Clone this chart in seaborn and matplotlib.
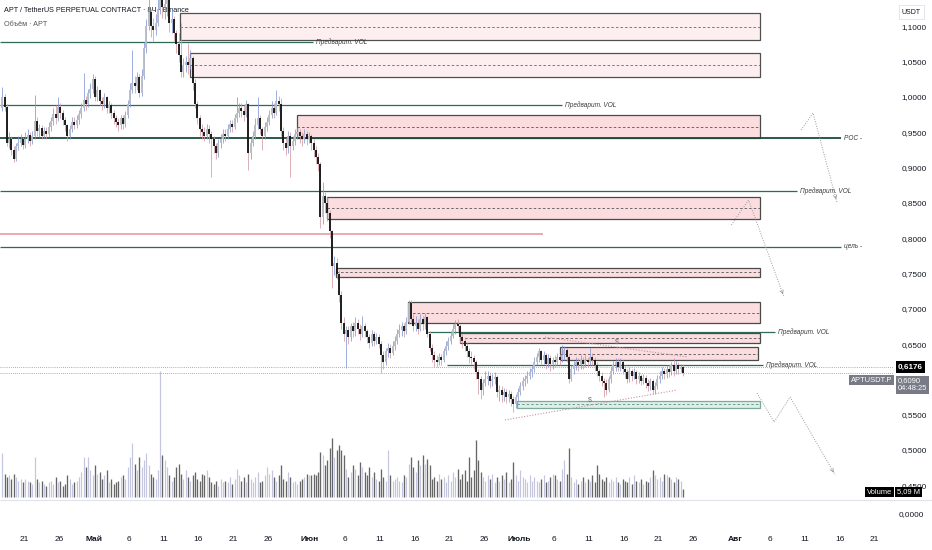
import numpy as np
import pandas as pd
import seaborn as sns
import matplotlib
matplotlib.use("Agg")
import matplotlib.pyplot as plt
import matplotlib.dates as mdates
from matplotlib.patches import Rectangle
from matplotlib.lines import Line2D

# --- 8h candles APT/USDT, first candle opens 2025-04-17 16:00 ---
first_open = 0.985
closes = [
    1.000,                      # Apr 17
    0.986, 0.935, 0.940,  0.925, 0.912, 0.930,  0.935, 0.940, 0.932,  0.940, 0.946, 0.938,
    0.945, 0.966, 0.952,  0.956, 0.945, 0.952,  0.948, 0.958, 0.966,  0.976, 0.970, 0.986,
    0.978, 0.968, 0.960,  0.945, 0.955, 0.965,  0.960, 0.968, 0.976,  0.985, 0.996, 0.990,
    1.005, 1.012, 1.026,        # Apr 30
    1.000, 1.010, 0.995,  0.990, 1.000, 0.985,  0.988, 0.978, 0.970,  0.965, 0.960, 0.970,
    0.962, 0.975, 0.990,  1.010, 1.020, 1.015,  1.028, 1.005, 1.030,  1.070, 1.100, 1.120,
    1.100, 1.095, 1.105,  1.125, 1.140, 1.128,  1.132, 1.138, 1.105,  1.110, 1.090, 1.075,
    1.060, 1.035, 1.045,  1.050, 1.045, 1.055,  1.020, 0.990, 0.970,  0.955, 0.950, 0.945,
    0.955, 0.948, 0.940,  0.930, 0.920, 0.935,  0.940, 0.948, 0.945,  0.955, 0.962, 0.958,
    0.970, 0.978, 0.985,  0.980, 0.975, 0.990,  0.920, 0.935, 0.945,  0.960, 0.970, 0.955,
    0.945, 0.958, 0.965,  0.975, 0.985, 0.978,  0.995, 0.990, 0.952,  0.935, 0.928, 0.945,
    0.930, 0.938, 0.948,  0.950, 0.945, 0.940,  0.948, 0.940, 0.945,      # May 31
    0.935, 0.925, 0.915,  0.905, 0.830, 0.860,  0.850, 0.835, 0.810,  0.760, 0.765, 0.750,
    0.720, 0.680, 0.665,  0.670, 0.660, 0.675,  0.668, 0.680, 0.672,  0.665, 0.676, 0.668,
    0.660, 0.652, 0.664,  0.655, 0.660, 0.650,  0.635, 0.625, 0.640,  0.645, 0.638, 0.648,
    0.655, 0.665, 0.670,  0.675, 0.668, 0.682,  0.708, 0.685, 0.675,  0.680, 0.672, 0.685,
    0.678, 0.688, 0.665,  0.645, 0.635, 0.628,  0.625, 0.632, 0.628,  0.640, 0.648, 0.655,
    0.662, 0.672, 0.678,  0.675, 0.660, 0.655,  0.648, 0.640, 0.632,  0.630, 0.625, 0.610,
    0.600, 0.585, 0.595,  0.600, 0.605, 0.598,  0.600, 0.603, 0.582,  0.585, 0.578, 0.582,
    0.575, 0.580, 0.572,  0.565, 0.575, 0.582,                            # Jun 30
    0.590, 0.598, 0.600,  0.605, 0.610, 0.615,  0.625, 0.632, 0.640,  0.628, 0.635, 0.622,
    0.630, 0.622, 0.628,  0.625, 0.632, 0.628,  0.635, 0.642, 0.632,  0.600, 0.615, 0.620,
    0.625, 0.620, 0.628,  0.622, 0.628, 0.625,  0.632, 0.628, 0.620,  0.612, 0.605, 0.598,
    0.595, 0.585, 0.600,  0.612, 0.620, 0.625,  0.618, 0.625, 0.615,  0.610, 0.600, 0.612,
    0.605, 0.610, 0.600,  0.605, 0.598, 0.602,  0.595, 0.590, 0.598,  0.585, 0.590, 0.600,
    0.605, 0.612, 0.608,  0.615, 0.610, 0.620,  0.612, 0.620, 0.615,  0.618, 0.609,
]
highs = [
    1.014,
    1.004, 0.990, 0.950,  0.945, 0.930, 0.935,  0.945, 0.948, 0.944,  0.950, 0.955, 0.950,
    0.952, 1.003, 0.972,  0.962, 0.960, 0.958,  0.958, 0.965, 0.972,  0.985, 0.988, 1.000,
    0.992, 0.982, 0.972,  0.962, 0.960, 0.972,  0.972, 0.975, 0.982,  0.992, 1.034, 1.002,
    1.012, 1.020, 1.032,
    1.030, 1.016, 1.012,  1.000, 1.006, 1.002,  0.995, 0.992, 0.982,  0.975, 0.970, 0.975,
    0.975, 0.980, 0.996,  1.020, 1.066, 1.030,  1.036, 1.032, 1.040,  1.078, 1.110, 1.150,
    1.125, 1.112, 1.118,  1.145, 1.165, 1.150,  1.150, 1.160, 1.140,  1.125, 1.115, 1.095,
    1.090, 1.105, 1.055,  1.058, 1.076, 1.066,  1.058, 1.025, 0.995,  0.975, 0.962, 0.958,
    0.962, 0.960, 0.952,  0.945, 0.935, 0.940,  0.948, 0.955, 0.955,  0.962, 0.968, 0.968,
    0.976, 1.000, 0.992,  0.992, 0.988, 0.996,  0.992, 0.942, 0.952,  0.970, 1.000, 0.975,
    0.958, 0.965, 0.972,  0.982, 0.995, 0.992,  1.010, 1.002, 0.998,  0.958, 0.942, 0.952,
    0.950, 0.945, 0.955,  0.958, 0.955, 0.950,  0.955, 0.952, 0.950,
    0.948, 0.940, 0.930,  0.920, 0.908, 0.880,  0.865, 0.858, 0.840,  0.812, 0.775, 0.772,
    0.755, 0.725, 0.688,  0.676, 0.675, 0.680,  0.682, 0.688, 0.686,  0.678, 0.690, 0.680,
    0.672, 0.665, 0.670,  0.668, 0.666, 0.664,  0.655, 0.640, 0.645,  0.652, 0.650, 0.654,
    0.662, 0.672, 0.678,  0.682, 0.680, 0.688,  0.713, 0.712, 0.692,  0.690, 0.686, 0.692,
    0.690, 0.694, 0.690,  0.668, 0.650, 0.640,  0.635, 0.638, 0.636,  0.645, 0.654, 0.660,
    0.668, 0.678, 0.684,  0.686, 0.678, 0.665,  0.660, 0.652, 0.645,  0.640, 0.634, 0.628,
    0.615, 0.605, 0.600,  0.612, 0.612, 0.610,  0.608, 0.610, 0.606,  0.592, 0.590, 0.588,
    0.586, 0.585, 0.584,  0.576, 0.580, 0.588,
    0.596, 0.604, 0.606,  0.612, 0.616, 0.620,  0.632, 0.638, 0.645,  0.642, 0.640, 0.638,
    0.636, 0.634, 0.632,  0.634, 0.638, 0.636,  0.649, 0.648, 0.645,  0.635, 0.620, 0.626,
    0.632, 0.630, 0.634,  0.632, 0.634, 0.632,  0.645, 0.638, 0.632,  0.625, 0.615, 0.610,
    0.602, 0.600, 0.605,  0.618, 0.626, 0.630,  0.630, 0.630, 0.628,  0.620, 0.615, 0.618,
    0.615, 0.616, 0.614,  0.610, 0.608, 0.608,  0.606, 0.600, 0.602,  0.600, 0.596, 0.606,
    0.612, 0.618, 0.616,  0.620, 0.620, 0.625,  0.630, 0.626, 0.624,  0.622, 0.622,
]
lows = [
    0.980,
    0.980, 0.930, 0.928,  0.918, 0.908, 0.910,  0.925, 0.930, 0.926,  0.928, 0.935, 0.930,
    0.933, 0.940, 0.945,  0.944, 0.940, 0.942,  0.940, 0.944, 0.952,  0.960, 0.962, 0.966,
    0.970, 0.960, 0.952,  0.938, 0.940, 0.950,  0.955, 0.956, 0.962,  0.970, 0.980, 0.982,
    0.986, 0.998, 1.005,
    0.995, 0.994, 0.988,  0.982, 0.985, 0.978,  0.978, 0.970, 0.962,  0.958, 0.952, 0.955,
    0.955, 0.958, 0.970,  0.986, 1.005, 1.005,  1.010, 1.000, 1.002,  1.025, 1.062, 1.095,
    1.085, 1.080, 1.088,  1.100, 1.118, 1.112,  1.110, 1.115, 1.092,  1.090, 1.080, 1.062,
    1.050, 1.028, 1.028,  1.036, 1.032, 1.040,  1.010, 0.984, 0.962,  0.945, 0.940, 0.938,
    0.940, 0.935, 0.887,  0.920, 0.912, 0.915,  0.928, 0.935, 0.938,  0.940, 0.950, 0.950,
    0.955, 0.965, 0.972,  0.972, 0.966, 0.972,  0.897, 0.912, 0.930,  0.940, 0.955, 0.948,
    0.925, 0.940, 0.952,  0.960, 0.970, 0.970,  0.975, 0.980, 0.945,  0.925, 0.918, 0.920,
    0.887, 0.925, 0.932,  0.940, 0.935, 0.930,  0.935, 0.932, 0.935,
    0.925, 0.915, 0.905,  0.895, 0.815, 0.820,  0.835, 0.825, 0.800,  0.730, 0.748, 0.742,
    0.710, 0.672, 0.655,  0.616, 0.650, 0.655,  0.660, 0.662, 0.665,  0.656, 0.660, 0.660,
    0.652, 0.645, 0.648,  0.648, 0.650, 0.645,  0.609, 0.615, 0.620,  0.632, 0.630, 0.634,
    0.642, 0.650, 0.660,  0.662, 0.660, 0.664,  0.678, 0.680, 0.668,  0.668, 0.665, 0.668,
    0.670, 0.672, 0.660,  0.640, 0.625, 0.618,  0.617, 0.620, 0.620,  0.625, 0.635, 0.642,
    0.650, 0.658, 0.665,  0.668, 0.652, 0.645,  0.640, 0.632, 0.623,  0.622, 0.615, 0.600,
    0.580, 0.572, 0.578,  0.590, 0.592, 0.588,  0.590, 0.594, 0.575,  0.570, 0.568, 0.570,
    0.566, 0.568, 0.562,  0.554, 0.560, 0.570,
    0.578, 0.585, 0.590,  0.595, 0.600, 0.604,  0.610, 0.620, 0.625,  0.622, 0.622, 0.615,
    0.618, 0.612, 0.615,  0.618, 0.620, 0.620,  0.625, 0.628, 0.625,  0.595, 0.598, 0.608,
    0.614, 0.612, 0.615,  0.615, 0.618, 0.618,  0.620, 0.620, 0.612,  0.605, 0.598, 0.590,
    0.575, 0.578, 0.582,  0.595, 0.608, 0.612,  0.612, 0.612, 0.608,  0.602, 0.595, 0.596,
    0.598, 0.600, 0.594,  0.595, 0.592, 0.594,  0.588, 0.584, 0.585,  0.580, 0.580, 0.586,
    0.595, 0.600, 0.600,  0.602, 0.604, 0.606,  0.605, 0.608, 0.608,  0.610, 0.605,
]
# volume per candle, millions
volumes = [
    26,
    14, 12, 13,  11, 14, 12,  10, 11, 9,  11, 10, 9,  8, 24, 11,  9, 10, 8,  7, 9, 10,
    8, 12, 9,  10, 7, 8,  13, 11, 8,  9, 10, 12,  15, 24, 18,  24, 16, 13,
    19, 14, 15,  11, 13, 16,  9, 11, 8,  9, 10, 12,  13, 11, 18,  24, 32, 20,  16, 24, 18,
    22, 26, 19,  14, 12, 11,  16, 75, 25,  22, 18, 13,  10, 12, 18,  20, 14, 11,  16, 12, 10,
    13, 15, 11,  10, 14, 13,  16, 12, 9,  8, 10, 7,  11, 9, 10,  9, 12, 8,  11, 17, 13,
    10, 12, 9,  14, 11, 9,  12, 15, 9,  10, 13, 18,  14, 16, 12,  10, 13, 19,  11, 10, 15,
    12, 9, 10,  8, 10, 11,  12, 14, 13,
    13, 14, 13,  15, 27, 25,  19, 22, 29,  35, 24, 28,  31, 28, 25,  17, 12, 15,  19, 17, 13,
    21, 18, 15,  13, 18, 12,  15, 11, 10,  17, 12, 10,  28, 13, 10,  11, 12, 10,  9, 13, 12,
    20, 24, 18,  15, 22, 19,  25, 20, 23,  19, 11, 12,  10, 14, 11,  12, 9, 13,  10, 15, 12,
    17, 11, 14,  16, 10, 24,  12, 16, 34,  22, 15, 12,  10, 13, 11,  14, 9, 12,  10, 13, 11,
    15, 9, 11,  21, 13, 10,
    16, 12, 11,  9, 13, 10,  12, 10, 9,  11, 13, 9,  10, 12, 14,  13, 11, 10,  17, 22, 14,
    29, 12, 9,  11, 8, 10,  12, 9, 11,  10, 13, 9,  19, 14, 11,  10, 12, 9,  11, 10, 12,
    9, 8, 11,  10, 9, 12,  8, 13, 10,  9, 11, 8,  10, 9, 12,  16, 13, 11,  12, 10, 14,
    13, 12, 11,  9, 12, 11,  10, 5.09,
]

# supply / demand zones
zone_start = ["2025-05-13 08:00", "2025-05-14 18:00", "2025-05-30 03:00", "2025-06-03 10:00",
              "2025-06-04 18:00", "2025-06-15 02:00", "2025-06-22 12:00", "2025-07-06 21:00",
              "2025-06-30 17:00"]
zone_end = ["2025-08-04 13:00"] * 7 + ["2025-08-04 06:00", "2025-08-04 13:00"]
zone_low = [1.0807, 1.0283, 0.9419, 0.8272, 0.7457, 0.6799, 0.6516, 0.6275, 0.5602]
zone_high = [1.1190, 1.0623, 0.9745, 0.8584, 0.7578, 0.7096, 0.6657, 0.6459, 0.5701]
zone_kind = ["pale", "pale", "red", "red", "red", "red", "red", "red", "green"]

# horizontal levels
level_price = [1.0779, 0.9887, 0.9419, 0.8669, 0.7880, 0.8060, 0.6676, 0.6204]
level_start = [None, None, None, None, None, None, "2025-06-17 22:00", "2025-06-20 16:00"]
level_end = ["2025-06-01 10:00", "2025-07-07 04:00", "2025-08-16 04:00", "2025-08-09 21:00",
             "2025-08-16 04:00", "2025-07-04 10:00", "2025-08-06 17:00", "2025-08-05 00:00"]
level_label = ["Предварит. VOL", "Предварит. VOL", "POC -", "Предварит. VOL", "цель -", "",
               "Предварит. VOL", "Предварит. VOL"]
level_kind = ["vol", "vol", "poc", "vol", "vol", "pink", "vol", "vol"]

# trend lines and forecast paths
trend_hi_dates = ["2025-07-04 17:00", "2025-07-25 05:00"]
trend_hi_prices = [0.6599, 0.6317]
trend_lo_dates = ["2025-06-28 23:00", "2025-07-23 16:00"]
trend_lo_prices = [0.5425, 0.5850]
fc_a_dates = ["2025-08-10 11:00", "2025-08-12 04:00", "2025-08-15 14:00"]
fc_a_prices = [0.9533, 0.9773, 0.8513]
fc_b_dates = ["2025-07-31 11:00", "2025-08-02 22:00", "2025-08-08 00:00"]
fc_b_prices = [0.8187, 0.8541, 0.7167]
fc_c_dates = ["2025-08-04 03:00", "2025-08-06 14:00", "2025-08-08 21:00", "2025-08-15 08:00"]
fc_c_prices = [0.5807, 0.5397, 0.5751, 0.4646]

tick_dates = ["2025-04-21", "2025-04-26", "2025-05-01", "2025-05-06", "2025-05-11", "2025-05-16",
              "2025-05-21", "2025-05-26", "2025-06-01", "2025-06-06", "2025-06-11", "2025-06-16",
              "2025-06-21", "2025-06-26", "2025-07-01", "2025-07-06", "2025-07-11", "2025-07-16",
              "2025-07-21", "2025-07-26", "2025-08-01", "2025-08-06", "2025-08-11", "2025-08-16",
              "2025-08-21"]
tick_labels = ["21", "26", "Май", "6", "11", "16", "21", "26", "Июн", "6", "11", "16", "21", "26",
               "Июль", "6", "11", "16", "21", "26", "Авг", "6", "11", "16", "21"]
# 0,6000 is hidden behind the last-price badges in the original
price_ticks = [0.45, 0.50, 0.55, 0.65, 0.70, 0.75, 0.80, 0.85, 0.90, 0.95, 1.00, 1.05, 1.10]


def dnum(s):
    return mdates.date2num(pd.Timestamp(s).to_pydatetime())


sns.set_style("white")
plt.rcParams['font.family'] = ['Liberation Sans', 'DejaVu Sans']

W, H = 932, 550
fig = plt.figure(figsize=(W / 100, H / 100), dpi=100)


def frac(x0, y0, x1, y1):
    return [x0 / W, 1 - y1 / H, (x1 - x0) / W, (y1 - y0) / H]


ax = fig.add_axes(frac(0, 0, 893, 500))
axv = fig.add_axes(frac(0, 0, 893, 500), sharex=ax)
ax2 = fig.add_axes(frac(0, 500, 893, 530), sharex=ax)
ax.set_zorder(3)
ax.patch.set_visible(False)
axv.set_zorder(1)

x_left = dnum("2025-06-01") - 44.48
x_right = dnum("2025-06-01") + 83.64
ax.set_xlim(x_left, x_right)
ax.set_ylim(0.4292, 1.1374)
axv.set_ylim(-1.5, 294)

# candles
n = min(len(closes), len(highs), len(lows), len(volumes))
times = pd.date_range("2025-04-17 16:00", periods=n, freq="8h") + pd.Timedelta(hours=4)
x = mdates.date2num(times.to_pydatetime())
c = np.array(closes[:n])
o = np.r_[first_open, c[:-1]]
h = np.maximum(np.array(highs[:n]), np.maximum(o, c))
l = np.minimum(np.array(lows[:n]), np.minimum(o, c))
up = c >= o
body_lo = np.minimum(o, c)
body_hi = np.maximum(np.maximum(o, c), body_lo + 0.0016)

bull_body, bear_body = "#b9bcc6", "#161616"
bull_wick, bear_wick = "#8297d6", "#d39aa3"
ax.vlines(x[up], l[up], h[up], color=bull_wick, lw=0.55, zorder=4)
ax.vlines(x[~up], l[~up], h[~up], color=bear_wick, lw=0.55, zorder=4)
ax.vlines(x[up], body_lo[up], body_hi[up], color=bull_body, lw=1.35, zorder=5)
ax.vlines(x[~up], body_lo[~up], body_hi[~up], color=bear_body, lw=1.35, zorder=5)

# volume
vol = np.array(volumes[:n], dtype=float)
axv.vlines(x[up], 0, vol[up], color="#c3c6de", lw=0.85)
axv.vlines(x[~up], 0, vol[~up], color="#666666", lw=0.95)
axv.set_axis_off()

# zones
zone_style = {"pale": ("#fdeff0", "#505050", "#666666"),
              "red": ("#fbdcdf", "#4a4a4a", "#555555"),
              "green": ("#dcefe8", "#7fa99b", "#5d8c7d")}
for s, e, lo, hi, k in zip(zone_start, zone_end, zone_low, zone_high, zone_kind):
    fc, ec, mc = zone_style[k]
    x0, x1 = dnum(s), dnum(e)
    ax.add_patch(Rectangle((x0, lo), x1 - x0, hi - lo, fc=fc, ec=ec, lw=0.9, zorder=2))
    ax.hlines((lo + hi) / 2, x0, x1, color=mc, lw=0.6, ls=(0, (3, 2.5)), zorder=2)

# levels
for p, s, e, lab, k in zip(level_price, level_start, level_end, level_label, level_kind):
    x0 = x_left if s is None else dnum(s)
    x1 = dnum(e)
    if k == "poc":
        col, lw = "#1a4a3a", 1.3
    elif k == "pink":
        col, lw = "#eba3ab", 1.3
    else:
        col, lw = "#2f6a58", 0.9
    ax.hlines(p, x0, x1, color=col, lw=lw, zorder=3)
    if lab:
        ax.text(x1 + 0.4, p, lab, fontsize=4.7, style="italic", color="#3a3a3a",
                va="center", ha="left", zorder=6)

# last price lines
for p in [0.6176, 0.6090]:
    ax.axhline(p, color="#8f929b", lw=0.6, ls=(0, (1, 1.5)), zorder=3)

# trend lines
trend_col = "#c9939c"
sns.lineplot(x=[dnum(d) for d in trend_hi_dates], y=trend_hi_prices, ax=ax,
             color=trend_col, lw=0.8, ls=(0, (1, 1.5)), zorder=4)
sns.lineplot(x=[dnum(d) for d in trend_lo_dates], y=trend_lo_prices, ax=ax,
             color=trend_col, lw=0.8, ls=(0, (1, 1.5)), zorder=4)
ax.text(dnum("2025-07-15 01:00"), 0.653, "$", fontsize=5, color="#777777", ha="center", va="center")
ax.text(dnum("2025-07-11 04:00"), 0.5708, "$", fontsize=5, color="#777777", ha="center", va="center")

# forecast paths
for ds, ps in [(fc_a_dates, fc_a_prices), (fc_b_dates, fc_b_prices), (fc_c_dates, fc_c_prices)]:
    xs = [dnum(d) for d in ds]
    sns.lineplot(x=xs, y=ps, ax=ax, sort=False, color="#9a9ca3", lw=0.7,
                 ls=(0, (1, 1.5)), zorder=4)
    ax.annotate("", xy=(xs[-1], ps[-1]),
                xytext=(xs[-1] - (xs[-1] - xs[-2]) * 0.08, ps[-1] - (ps[-1] - ps[-2]) * 0.08),
                arrowprops=dict(arrowstyle="->", color="#9a9ca3", lw=0.6,
                                mutation_scale=6), zorder=4)

# axes cosmetics
for a in (ax, ax2):
    for sp in a.spines.values():
        sp.set_visible(False)
ax.yaxis.tick_right()
ax.set_yticks(price_ticks)
ax.set_yticklabels([f"{v:.4f}".replace(".", ",") for v in price_ticks])
ax.tick_params(axis="y", length=0, pad=6, labelsize=5.9, labelcolor="#131722")
ax.tick_params(axis="x", length=0, labelbottom=False)
ax2.set_yticks([])
ax2.patch.set_visible(False)
ax2.set_xticks([dnum(d) for d in tick_dates])
ax2.set_xticklabels(tick_labels)
ax2.tick_params(axis="x", length=0, pad=4, labelsize=6, labelcolor="#131722")
for t, lab in zip(ax2.get_xticklabels(), tick_labels):
    if not lab.isdigit():
        t.set_fontweight("bold")

# pane separator
fig.add_artist(Line2D([0, 1], [1 - 500 / H] * 2, color="#e0e3eb", lw=0.8))

# header
fig.text(4 / W, 1 - 11 / H, "APT / TetherUS PERPETUAL CONTRACT · 8Ч · Binance",
         fontsize=5.2, color="#131722", va="center", zorder=0)
fig.text(4 / W, 1 - 24 / H, "Объём · APT", fontsize=5.2, color="#555555", va="center")

# price scale labels
fig.text(902 / W, 1 - 12 / H, "USDT", fontsize=5, color="#131722", va="center",
         bbox=dict(boxstyle="square,pad=0.45", fc="white", ec="#e0e3eb", lw=0.6))
fig.text(899 / W, 1 - 515 / H, "0,0000", fontsize=5.9, color="#131722", va="center")
fig.text(898 / W, 1 - 367 / H, "0,6176", fontsize=5.9, color="white", fontweight="bold",
         va="center", bbox=dict(boxstyle="square,pad=0.25", fc="black", ec="none"), zorder=10)
fig.text(898 / W, 1 - 385 / H, "0,6090\n04:48:25", fontsize=5.4, color="white",
         va="center", linespacing=1.2,
         bbox=dict(boxstyle="square,pad=0.25", fc="#787b86", ec="none"), zorder=10)
fig.text(892 / W, 1 - 380 / H, "APTUSDT.P", fontsize=5.4, color="white", va="center", ha="right",
         bbox=dict(boxstyle="square,pad=0.25", fc="#787b86", ec="none"), zorder=10)
fig.text(892 / W, 1 - 492 / H, "Volume", fontsize=5.4, color="white", va="center", ha="right",
         bbox=dict(boxstyle="square,pad=0.25", fc="black", ec="none"), zorder=10)
fig.text(897 / W, 1 - 492 / H, "5,09 M", fontsize=5.4, color="white", va="center",
         bbox=dict(boxstyle="square,pad=0.25", fc="black", ec="none"), zorder=10)

fig.savefig("out.png", dpi=100)
